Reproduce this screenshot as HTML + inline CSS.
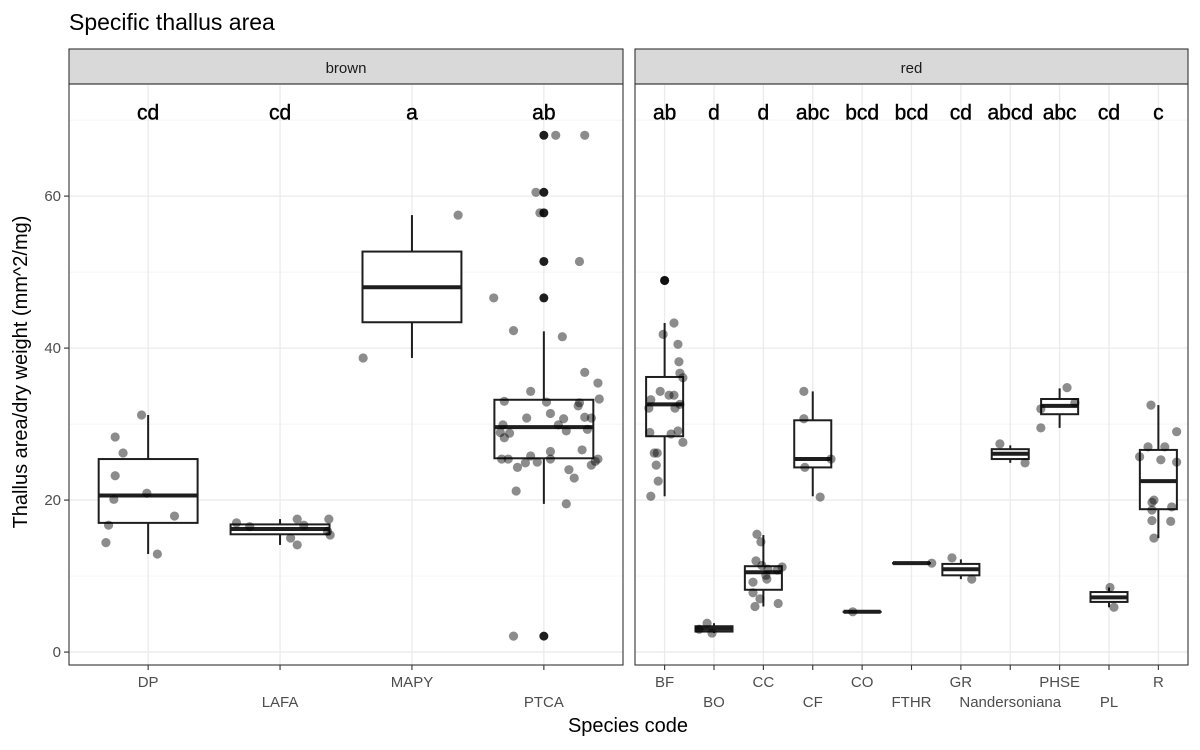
<!DOCTYPE html>
<html><head><meta charset="utf-8"><style>
html,body{margin:0;padding:0;background:#fff;}
svg{display:block;font-family:"Liberation Sans",sans-serif;}
</style></head><body>
<svg id="chart" width="1200" height="750" viewBox="0 0 1200 750" xmlns="http://www.w3.org/2000/svg">
<text x="69" y="30" font-size="23" fill="#000">Specific thallus area</text>
<text transform="translate(27,372) rotate(-90)" text-anchor="middle" font-size="20" fill="#000">Thallus area/dry weight (mm^2/mg)</text>
<text x="628" y="732" text-anchor="middle" font-size="20" fill="#000">Species code</text>
<g id="plot"></g>
</svg>
<script>
const brownCats = ["DP","LAFA","MAPY","PTCA"];
const redCats = ["BF","BO","CC","CF","CO","FTHR","GR","Nandersoniana","PHSE","PL","R"];
const brownLetters = ["cd","cd","a","ab"];
const redLetters = ["ab","d","d","abc","bcd","bcd","cd","abcd","abc","cd","c"];
const yTicks = [0,20,40,60];
const yMinor = [10,30,50,70];
// box stats: [whiskerLow, q1, median, q3, whiskerHigh]
const brownBoxes = [
  [12.9,17.0,20.6,25.4,31.2],
  [14.1,15.5,16.2,16.8,17.5],
  [38.7,43.4,48.0,52.7,57.5],
  [19.5,25.5,29.6,33.2,42.2]
];
const redBoxes = [
  [20.5,28.4,32.6,36.2,43.3],
  [2.5,2.7,3.1,3.4,3.8],
  [6.0,8.2,10.5,11.3,15.4],
  [20.5,24.3,25.4,30.5,34.3],
  [5.3,5.3,5.3,5.3,5.3],
  [11.7,11.7,11.7,11.7,11.7],
  [9.6,10.1,10.9,11.6,12.2],
  [24.9,25.4,26.1,26.7,27.2],
  [29.5,31.3,32.4,33.3,34.7],
  [5.9,6.6,7.2,7.9,8.5],
  [15.0,18.8,22.5,26.6,32.5]
];
const brownOutliers = [[],[],[],[68,60.5,57.8,51.4,46.6,2.1]];
const redOutliers = [[48.9],[],[],[],[],[],[],[],[],[],[]];
// jittered points: [value, jitter offset in category units]
const brownPoints = [
  [[31.2,-0.05],[28.3,-0.25],[26.2,-0.19],[23.2,-0.25],[20.9,-0.01],[20.1,-0.26],[17.9,0.20],[16.7,-0.30],[14.4,-0.32],[12.9,0.07]],
  [[17.0,-0.33],[16.5,-0.23],[17.5,0.13],[16.7,0.18],[17.5,0.37],[15.9,0.36],[15.4,0.38],[15.0,0.08],[14.1,0.13]],
  [[38.7,-0.37],[57.5,0.35]],
  [[34.3,-0.10],[35.4,0.41],[33.3,0.42],[33.0,-0.30],[32.9,0.02],[32.8,0.27],[32.4,0.26],[31.4,0.05],[30.8,-0.13],[30.7,0.15],[30.9,0.31],[30.8,0.36],[29.9,0.11],[29.9,-0.31],[29.3,0.33],[29.1,0.17],[28.9,-0.33],[28.8,-0.26],[28.2,-0.30],[26.6,0.29],[26.4,0.05],[25.8,-0.10],[25.4,-0.32],[25.4,-0.27],[25.4,0.05],[25.4,0.41],[25.1,0.39],[24.9,-0.14],[25.0,-0.05],[24.3,-0.20],[24.6,0.36],[24.0,0.19],[22.9,0.23],[21.2,-0.21],[19.5,0.17],[2.1,-0.23],[36.8,0.31],[41.5,0.14],[42.3,-0.23],[46.6,-0.38],[51.4,0.27],[57.8,-0.03],[60.5,-0.06],[68,0.09],[68,0.31]]
];
const redPoints = [
  [[43.3,0.19],[41.8,-0.03],[40.5,0.27],[38.2,0.29],[36.7,0.31],[36.1,0.37],[34.3,-0.09],[33.8,0.09],[33.8,0.19],[33.2,-0.28],[32.6,0.31],[32.1,-0.32],[32.1,0.21],[28.9,-0.30],[28.7,0.13],[29.1,0.27],[27.6,0.37],[26.2,-0.21],[26.2,-0.15],[24.6,-0.17],[22.5,-0.13],[20.5,-0.28],[48.9,0]],
  [[3.8,-0.14],[2.5,-0.04],[3.0,-0.30]],
  [[15.5,-0.13],[14.5,-0.05],[12.0,-0.15],[11.4,-0.03],[11.2,0.38],[10.9,0.09],[10.8,0.28],[10.1,0.05],[9.6,0.07],[9.2,-0.21],[7.8,-0.21],[7.0,-0.07],[6.4,0.30],[6.0,-0.17]],
  [[34.3,-0.18],[30.7,-0.18],[25.4,0.37],[24.3,-0.16],[20.4,0.15]],
  [[5.3,-0.19]],
  [[11.7,0.41]],
  [[12.4,-0.18],[9.6,0.22]],
  [[27.4,-0.21],[24.9,0.30]],
  [[34.8,0.15],[32.0,-0.38],[32.8,0.31],[29.5,-0.38]],
  [[8.5,0.02],[5.9,0.10]],
  [[32.5,-0.15],[29.0,0.37],[27.0,-0.21],[27.0,0.13],[25.7,-0.38],[25.3,0.05],[25.0,0.37],[20.0,-0.09],[19.7,-0.13],[19.1,0.27],[18.7,-0.13],[17.3,-0.13],[17.2,0.25],[15.0,-0.09]]
];
const letterY = 71;

const NS = "http://www.w3.org/2000/svg";
const plot = document.getElementById('plot');
const PT = 84, PB = 665;
const yMinV = -1.7, yMaxV = 74.75;
function yS(v){ return PB - (v - yMinV) / (yMaxV - yMinV) * (PB - PT); }
function mk(tag, attrs, parent){ const e = document.createElementNS(NS, tag); for (const k in attrs) e.setAttribute(k, attrs[k]); (parent||plot).appendChild(e); return e; }

function panel(name, L, R, cats, letters, boxes, outliers, points, showY){
  const g = mk('g', {});
  
  
  const n = cats.length;
  const step = (R - L) / (n - 1 + 1.2);
  const xS = i => L + step * (0.6 + i);
  const strip = mk('rect', {x:L, y:49, width:R-L, height:35, fill:'#d9d9d9', stroke:'#333', 'stroke-width':1.1}, g);
  
  
  const st = mk('text', {x:(L+R)/2, y:73, 'text-anchor':'middle', 'font-size':15, fill:'#1a1a1a'}, g);
  st.textContent = name;
  
  
  yMinor.forEach(v => { mk('line', {x1:L, x2:R, y1:yS(v), y2:yS(v), stroke:'#f0f0f0', 'stroke-width':0.7}, g); });
  yTicks.forEach(v => { mk('line', {x1:L, x2:R, y1:yS(v), y2:yS(v), stroke:'#ebebeb', 'stroke-width':1.3}, g); });
  cats.forEach((c,i) => { mk('line', {x1:xS(i), x2:xS(i), y1:PT, y2:PB, stroke:'#ebebeb', 'stroke-width':1.3}, g); });
  const bw = step * 0.75;
  boxes.forEach((b,i) => {
    const cx = xS(i);
    const bg = mk('g', {stroke:'#1e1e1e', 'stroke-width':2, fill:'#fff'}, g);
    
    
    mk('line', {x1:cx, x2:cx, y1:yS(b[0]), y2:yS(b[1])}, bg);
    mk('line', {x1:cx, x2:cx, y1:yS(b[3]), y2:yS(b[4])}, bg);
    mk('rect', {x:cx-bw/2, y:yS(b[3]), width:bw, height:Math.max(0.1, yS(b[1])-yS(b[3]))}, bg);
    mk('line', {x1:cx-bw/2, x2:cx+bw/2, y1:yS(b[2]), y2:yS(b[2]), 'stroke-width':4}, bg);
    outliers[i].forEach(v => {
      const o = mk('circle', {cx:cx, cy:yS(v), r:4.5, fill:'#1e1e1e', stroke:'none'}, g);
      
      
    });
  });
  points.forEach((arr,i) => {
    arr.forEach(p => {
      const c = mk('circle', {cx:xS(i + p[1]), cy:yS(p[0]), r:4.6, fill:'rgba(0,0,0,0.45)', stroke:'none'}, g);
      
      
    });
  });
  letters.forEach((t,i) => {
    const tx = mk('text', {x:xS(i), y:yS(letterY)+7, 'text-anchor':'middle', 'font-size':21, fill:'#000', stroke:'#000', 'stroke-width':0.4}, g);
    tx.textContent = t;
    
    
  });
  mk('rect', {x:L, y:PT, width:R-L, height:PB-PT, fill:'none', stroke:'#333', 'stroke-width':1.1}, g);
  cats.forEach((c,i) => {
    mk('line', {x1:xS(i), x2:xS(i), y1:PB, y2:PB+5, stroke:'#333', 'stroke-width':1.1}, g);
    const lt = mk('text', {x:xS(i), y:(i%2===0)?687:707, 'text-anchor':'middle', 'font-size':15, fill:'#4d4d4d'}, g);
    lt.textContent = c;
    
    
  });
  if (showY){
    yTicks.forEach(v => {
      mk('line', {x1:L-5, x2:L, y1:yS(v), y2:yS(v), stroke:'#333', 'stroke-width':1.1}, g);
      const yt = mk('text', {x:L-8, y:yS(v)+5, 'text-anchor':'end', 'font-size':15, fill:'#4d4d4d'}, g);
      yt.textContent = String(v);
      
      
    });
  }
}
panel('brown', 69, 623, brownCats, brownLetters, brownBoxes, brownOutliers, brownPoints, true);
panel('red', 635, 1188, redCats, redLetters, redBoxes, redOutliers, redPoints, false);
</script>
</body></html>
